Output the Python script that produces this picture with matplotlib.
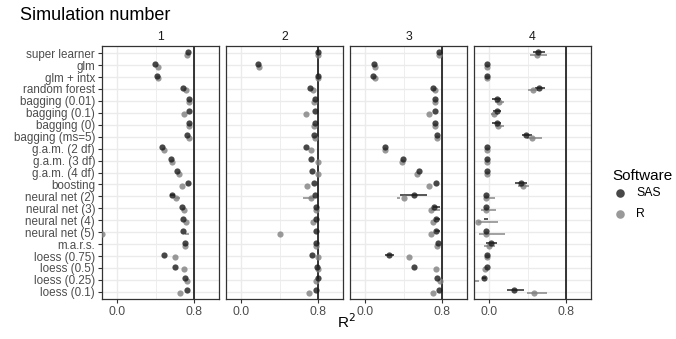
import numpy as np
import matplotlib
matplotlib.use("Agg")
import matplotlib.pyplot as plt

plt.rcParams['font.family'] = ['Liberation Sans', 'DejaVu Sans']

methods = ["super learner", "glm", "glm + intx", "random forest", "bagging (0.01)",
           "bagging (0.1)", "bagging (0)", "bagging (ms=5)", "g.a.m. (2 df)",
           "g.a.m. (3 df)", "g.a.m. (4 df)", "boosting", "neural net (2)",
           "neural net (3)", "neural net (4)", "neural net (5)", "m.a.r.s.",
           "loess (0.75)", "loess (0.5)", "loess (0.25)", "loess (0.1)"]
facets = ["1", "2", "3", "4"]

sas_1 = [0.738, 0.395, 0.409, 0.68, 0.745, 0.745, 0.745, 0.72, 0.47, 0.56,
         0.625, 0.731, 0.567, 0.67, 0.687, 0.683, 0.70, 0.49, 0.60, 0.70, 0.725]
r_1 = [0.728, 0.419, 0.429, 0.71, 0.748, 0.69, 0.748, 0.745, 0.488, 0.573,
       0.639, 0.676, 0.611, 0.697, 0.714, -0.16, 0.70, 0.60, 0.69, 0.72, 0.65]
sas_2 = [0.797, 0.181, 0.797, 0.715, 0.762, 0.762, 0.762, 0.759, 0.673, 0.725,
         0.732, 0.756, 0.769, 0.773, 0.773, 0.776, 0.776, 0.735, 0.783, 0.793, 0.773]
r_2 = [0.797, 0.185, 0.80, 0.742, 0.756, 0.673, 0.756, 0.766, 0.728, 0.793,
       0.797, 0.687, 0.728, 0.773, 0.749, 0.403, 0.773, 0.80, 0.797, 0.78, 0.708]
sas_3 = [0.769, 0.09, 0.083, 0.703, 0.724, 0.724, 0.724, 0.741, 0.203, 0.393,
         0.554, 0.73, 0.502, 0.717, 0.734, 0.738, 0.755, 0.253, 0.502, 0.748, 0.765]
r_3 = [0.769, 0.107, 0.10, 0.728, 0.724, 0.659, 0.724, 0.741, 0.21, 0.379,
       0.54, 0.661, 0.40, 0.686, 0.70, 0.68, 0.741, 0.454, 0.738, 0.772, 0.703]
sas_4 = [0.51, -0.024, -0.024, 0.52, 0.078, 0.085, 0.078, 0.381, -0.017, -0.024,
         -0.024, 0.334, -0.027, -0.027, np.nan, -0.034, 0.017, -0.017, -0.024, -0.051, 0.255]
r_4 = [0.494, -0.024, -0.024, 0.453, 0.102, 0.051, 0.095, 0.449, -0.017, -0.024,
       -0.024, 0.347, -0.027, -0.027, -0.112, -0.034, 0.0, -0.024, -0.04, -0.20, 0.47]

# error bars: (method, software, low, high)
err_1 = [("neural net (2)", "SAS", 0.55, 0.60), ("neural net (2)", "R", 0.60, 0.65),
         ("neural net (5)", "R", 0.70, 0.74)]
err_2 = [("neural net (2)", "R", 0.64, 0.76)]
err_3 = [("neural net (2)", "SAS", 0.357, 0.64), ("neural net (2)", "R", 0.333, 0.364),
         ("neural net (3)", "SAS", 0.70, 0.78), ("neural net (3)", "R", 0.686, 0.78),
         ("neural net (4)", "SAS", 0.72, 0.78), ("neural net (5)", "SAS", 0.72, 0.78),
         ("loess (0.75)", "SAS", 0.208, 0.298)]
err_4 = [("super learner", "SAS", 0.46, 0.58), ("super learner", "R", 0.425, 0.60),
         ("random forest", "SAS", 0.477, 0.579), ("random forest", "R", 0.40, 0.51),
         ("bagging (0.01)", "SAS", 0.034, 0.126), ("bagging (0.01)", "R", 0.058, 0.16),
         ("bagging (0.1)", "SAS", 0.044, 0.126), ("bagging (0.1)", "R", 0.024, 0.092),
         ("bagging (0)", "SAS", 0.034, 0.126), ("bagging (0)", "R", 0.058, 0.153),
         ("bagging (ms=5)", "SAS", 0.34, 0.443), ("bagging (ms=5)", "R", 0.39, 0.55),
         ("boosting", "SAS", 0.272, 0.398), ("boosting", "R", 0.30, 0.415),
         ("neural net (2)", "R", -0.05, 0.058), ("neural net (3)", "R", -0.078, 0.068),
         ("neural net (4)", "SAS", -0.05, -0.01), ("neural net (4)", "R", -0.112, 0.095),
         ("neural net (5)", "R", -0.105, 0.163),
         ("m.a.r.s.", "SAS", -0.027, 0.085), ("m.a.r.s.", "R", -0.05, 0.058),
         ("loess (0.25)", "SAS", -0.07, -0.03), ("loess (0.25)", "R", -0.25, -0.10),
         ("loess (0.1)", "SAS", 0.187, 0.357), ("loess (0.1)", "R", 0.39, 0.60)]

sas_all = [sas_1, sas_2, sas_3, sas_4]
r_all = [r_1, r_2, r_3, r_4]
err_all = [err_1, err_2, err_3, err_4]

x_ticks = [0.0, 0.8]
x_tick_labels = ["0.0", "0.8"]
ref_line = 0.8

W, H = 676, 339
fig = plt.figure(figsize=(W / 100, H / 100), dpi=100)

sas_col = '#1a1a1a'
r_col = '#808080'
alpha = 0.8
dodge = 0.12
n = len(methods)
ypos = np.arange(n)

panel_lefts = [102, 226, 350, 474]
pw = 117
top_px, bot_px = 46, 299

for k in range(4):
    ax = fig.add_axes([panel_lefts[k] / W, 1 - bot_px / H, pw / W, (bot_px - top_px) / H])
    ax.set_xlim(-0.155, 1.055)
    ax.set_ylim(n - 1 + 0.6, -0.6)
    for yy in ypos:
        ax.axhline(yy, color='#ebebeb', lw=1.0, zorder=0)
    for xx in x_ticks:
        ax.axvline(xx, color='#ebebeb', lw=1.0, zorder=0)
    ax.axvline(0.4, color='#ebebeb', lw=0.6, zorder=0)
    ax.axvline(ref_line, color='black', lw=1.1, zorder=1)
    for (m, sw, lo, hi) in err_all[k]:
        i = methods.index(m)
        yy = i - dodge if sw == "SAS" else i + dodge
        c = sas_col if sw == "SAS" else r_col
        ax.hlines(yy, lo, hi, color=c, lw=1.3, alpha=alpha, zorder=2)
    ax.scatter(np.array(r_all[k], dtype=float), ypos + dodge, s=20, color=r_col,
               alpha=alpha, linewidths=0, zorder=3)
    ax.scatter(np.array(sas_all[k], dtype=float), ypos - dodge, s=20, color=sas_col,
               alpha=alpha, linewidths=0, zorder=4)
    for sp in ax.spines.values():
        sp.set_color('#333333')
        sp.set_linewidth(0.9)
    ax.set_xticks(x_ticks)
    ax.set_xticklabels(x_tick_labels)
    ax.tick_params(axis='x', colors='#333333', labelcolor='#4d4d4d', labelsize=8.8,
                   length=3, width=0.8, pad=2)
    ax.set_yticks(ypos)
    if k == 0:
        ax.set_yticklabels(methods)
        ax.tick_params(axis='y', colors='#333333', labelcolor='#4d4d4d', labelsize=8.4,
                       length=3, width=0.8, pad=2)
    else:
        ax.set_yticklabels([])
        ax.tick_params(axis='y', length=0)
    ax.set_title(facets[k], fontsize=8.8, color='#1a1a1a', pad=4)

fig.text(20 / W, 1 - 15 / H, "Simulation number", fontsize=13, ha='left', va='center',
         color='black')
fig.text(346 / W, 1 - 322 / H, r"R$^2$", fontsize=11, ha='center', va='center')

# legend
lax = fig.add_axes([0, 0, 1, 1], facecolor='none')
lax.set_xlim(0, W)
lax.set_ylim(H, 0)
lax.axis('off')
lax.text(612, 176, "Software", fontsize=11, ha='left', va='center')
lax.scatter([620], [193], s=38, color=sas_col, alpha=alpha, linewidths=0)
lax.scatter([620], [214], s=38, color=r_col, alpha=alpha, linewidths=0)
lax.text(636, 193, "SAS", fontsize=8.8, va='center', ha='left')
lax.text(636, 214, "R", fontsize=8.8, va='center', ha='left')

fig.savefig("out.png", dpi=100)
